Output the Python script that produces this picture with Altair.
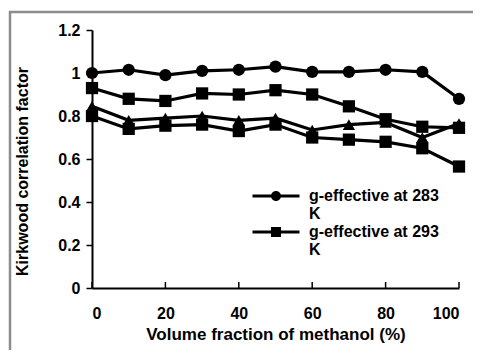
import altair as alt
import pandas as pd

# ---- data ----
volume_fraction = [0, 10, 20, 30, 40, 50, 60, 70, 80, 90, 100]
g_283 = [1.00, 1.015, 0.99, 1.01, 1.015, 1.03, 1.005, 1.005, 1.015, 1.005, 0.88]
g_293 = [0.93, 0.88, 0.87, 0.905, 0.90, 0.92, 0.90, 0.845, 0.785, 0.75, 0.745]
g_303 = [0.845, 0.78, 0.79, 0.80, 0.78, 0.79, 0.735, 0.76, 0.77, 0.70, 0.765]
g_313 = [0.80, 0.74, 0.755, 0.76, 0.73, 0.76, 0.70, 0.69, 0.68, 0.65, 0.565]

series_names = ["g-effective at 283 K", "g-effective at 293 K",
                "g-effective at 303 K", "g-effective at 313 K"]
series_values = [g_283, g_293, g_303, g_313]
series_shapes = ["circle", "square", "triangle-up", "square"]
legend_names = series_names[:2]
x_ticks = [0, 20, 40, 60, 80, 100]

rows = []
for name, vals in zip(series_names, series_values):
    for xv, yv in zip(volume_fraction, vals):
        rows.append({"series": name, "x": xv, "y": yv})
df = pd.DataFrame(rows)
ticks_df = pd.DataFrame({"t": x_ticks})

W, H = 367, 258
FONT = "Liberation Sans"

xs = alt.X("x:Q", scale=alt.Scale(domain=[0, 100], nice=False),
           axis=alt.Axis(values=x_ticks, title="Volume fraction of methanol (%)",
                         tickSize=0, labelPadding=17, titlePadding=5, titleFontSize=17))
ys = alt.Y("y:Q", scale=alt.Scale(domain=[0, 1.2], nice=False),
           axis=alt.Axis(values=[0, 0.2, 0.4, 0.6, 0.8, 1.0, 1.2], format="~g",
                         title="Kirkwood correlation factor", tickSize=6,
                         labelPadding=6, titlePadding=27, titleY=H / 2 + 12))

lines = alt.Chart(df).mark_line(color="black", strokeWidth=3.2).encode(
    x=xs, y=ys, detail="series:N")

points = alt.Chart(df).mark_point(filled=True, color="black", opacity=1, size=150).encode(
    x="x:Q", y="y:Q",
    shape=alt.Shape("series:N", scale=alt.Scale(domain=series_names, range=series_shapes),
                    legend=None))

# legend-only layer (marks invisible); symbols show a line through the marker
circle_path = ("M-4.7,-0.28L-0.9,-0.28L-0.9,0.28L-4.7,0.28Z"
               "M0.9,-0.28L4.7,-0.28L4.7,0.28L0.9,0.28Z"
               "M-1,0A1,1 0 1,1 1,0A1,1 0 1,1 -1,0Z")
square_path = ("M-4.7,-0.28L-0.9,-0.28L-0.9,0.28L-4.7,0.28Z"
               "M0.9,-0.28L4.7,-0.28L4.7,0.28L0.9,0.28Z"
               "M-1,-1L1,-1L1,1L-1,1Z")
legend_layer = alt.Chart(df).transform_filter(
    alt.FieldOneOfPredicate(field="series", oneOf=legend_names)
).mark_point(filled=True, color="black", opacity=0, size=110).encode(
    x="x:Q", y="y:Q",
    shape=alt.Shape("series:N",
                    scale=alt.Scale(domain=legend_names, range=[circle_path, square_path]),
                    legend=alt.Legend(title=None, orient="none", legendX=176, legendY=158,
                                      symbolOpacity=1, symbolFillColor="black",
                                      labelFont=FONT, labelFontSize=16, labelFontWeight="bold",
                                      labelColor="black", labelOffset=25, labelLimit=300,
                                      rowPadding=2,
                                      labelExpr="[replace(datum.label, ' K', ''), 'K']")))

tick_marks = alt.Chart(ticks_df).mark_rule(color="black", strokeWidth=1.5).encode(
    x="t:Q", y=alt.value(H), y2=alt.value(H - 6))

frame = alt.Chart(ticks_df.head(1)).mark_rect(
    fill="white", fillOpacity=0, stroke="#8c8c8c", strokeWidth=2.5).encode(
    x=alt.value(-82), x2=alt.value(W + 60), y=alt.value(-18), y2=alt.value(H + 120))

chart = alt.layer(frame, lines, points, legend_layer, tick_marks).resolve_scale(
    shape="independent"
).properties(
    width=W, height=H,
    autosize=alt.AutoSizeParams(type="none"),
    padding={"left": 84, "top": 22, "right": 14, "bottom": 62},
).configure_view(stroke=None).configure_axis(
    grid=False, domainColor="black", tickColor="black", domainWidth=2, tickWidth=1.5,
    labelFont=FONT, labelFontSize=16, labelFontWeight="bold", labelColor="black",
    titleFont=FONT, titleFontSize=16, titleFontWeight="bold", titleColor="black",
).configure_legend(labelFontWeight="bold")

chart.save("out.html", embed_options={"renderer": "svg", "actions": False})
